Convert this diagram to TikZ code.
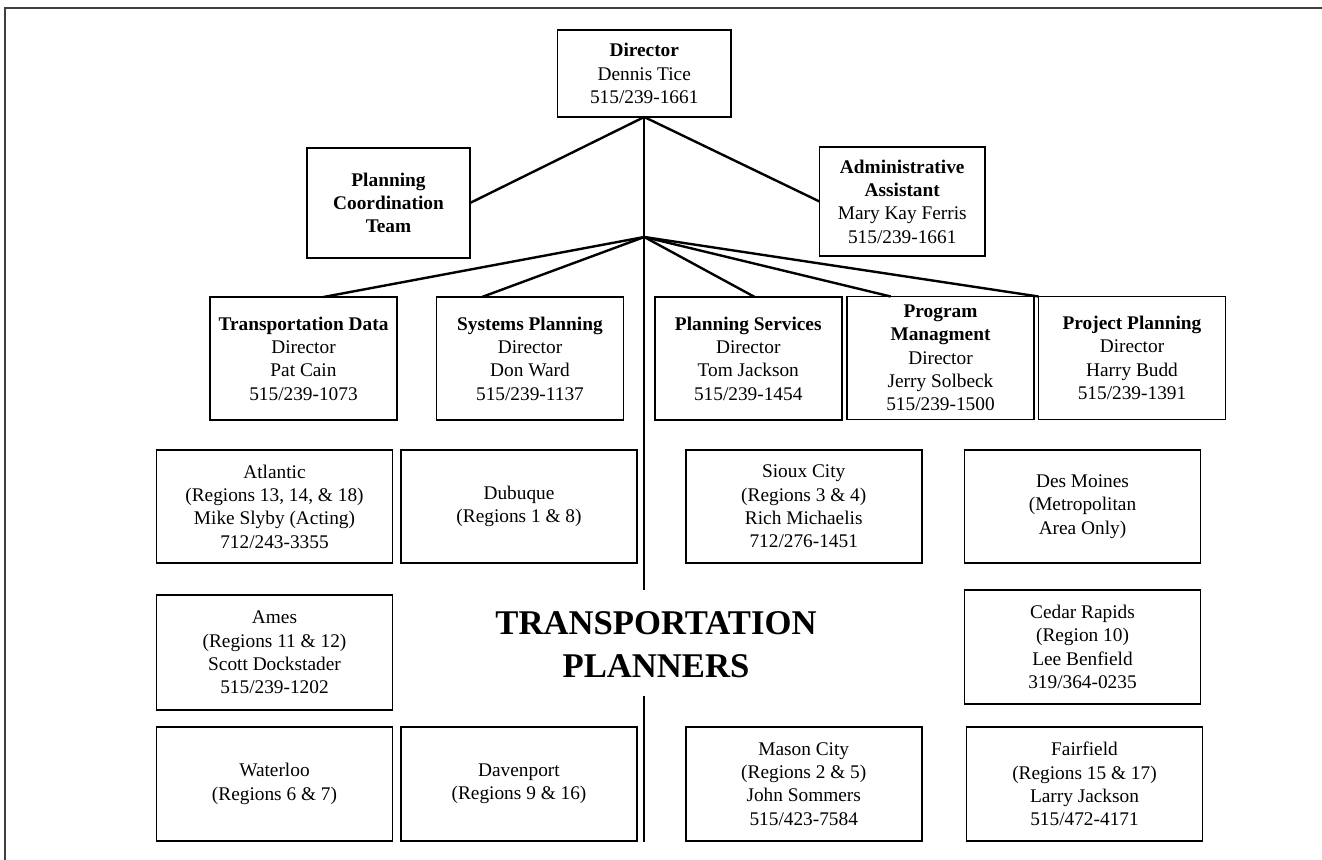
\documentclass[tikz,border=0pt]{standalone}
\usepackage{fontspec}
\setmainfont{Liberation Serif}
\usetikzlibrary{calc}
\tikzset{%
    unit/.style={inner sep=2pt,outer sep=0pt,shape=rectangle,draw,line width=1.3pt,align=center,font=\fontsize{14.5}{17.5}\selectfont},
    boxsize/.style 2 args={minimum width=#1*0.75pt,minimum height=#2*0.75pt},
    dept/.style={unit,boxsize={187}{123}},
    region/.style={unit,boxsize={236}{114}},
    link/.style={line width=1.8pt},
    trunk/.style={line width=1.2pt},
    frame/.style={black!75,line width=1pt},
}
\begin{document}
\begin{tikzpicture}[x=0.75pt,y=-0.75pt]
        \useasboundingbox (0,0) rectangle (1322,860);
        \draw[frame] (5,860) -- (5,8) -- (1322,8);

        \node[unit,boxsize={173.5}{87}] (dir) at (644.25,73.5) {\textbf{Director}\\Dennis Tice\\515/239-1661};
        \node[unit,boxsize={163}{110},font=\fontsize{14.5}{17.5}\selectfont\bfseries] (pct) at (388.5,203) {Planning\\Coordination\\Team};
        \node[unit,boxsize={165.5}{109}] (adm) at (902.25,201.5) {\textbf{Administrative}\\\textbf{Assistant}\\Mary Kay Ferris\\515/239-1661};

        \node[dept] (td) at (303.5,358.5) {\textbf{Transportation Data}\\Director\\Pat Cain\\515/239-1073};
        \node[dept] (sp) at (530,358.5) {\textbf{Systems Planning}\\Director\\Don Ward\\515/239-1137};
        \node[dept] (ps) at (748.25,358.5) {\textbf{Planning Services}\\Director\\Tom Jackson\\515/239-1454};
        \node[dept] (pm) at (940.5,358) {\textbf{Program}\\\textbf{Managment}\\Director\\Jerry Solbeck\\515/239-1500};
        \node[dept] (pp) at (1132,358) {\textbf{Project Planning}\\Director\\Harry Budd\\515/239-1391};

        \node[region,minimum height=113*0.75pt] (atl) at (274.5,506.5) {Atlantic\\(Regions 13, 14, \& 18)\\Mike Slyby (Acting)\\712/243-3355};
        \node[region,minimum height=113*0.75pt] (dub) at (519,506.5) {Dubuque\\(Regions 1 \& 8)};
        \node[region,minimum height=113*0.75pt] (sio) at (803.75,506.5) {Sioux City\\(Regions 3 \& 4)\\Rich Michaelis\\712/276-1451};
        \node[region,minimum height=113*0.75pt] (dsm) at (1082.5,506.5) {Des Moines\\(Metropolitan\\Area Only)};

        \node[region,minimum height=115*0.75pt] (ame) at (274.5,652.5) {Ames\\(Regions 11 \& 12)\\Scott Dockstader\\515/239-1202};
        \node[region] (ced) at (1082.5,647) {Cedar Rapids\\(Region 10)\\Lee Benfield\\319/364-0235};

        \node[region] (wat) at (274.5,784) {Waterloo\\(Regions 6 \& 7)};
        \node[region] (dav) at (519,784) {Davenport\\(Regions 9 \& 16)};
        \node[region] (mas) at (803.75,784) {Mason City\\(Regions 2 \& 5)\\John Sommers\\515/423-7584};
        \node[region] (fai) at (1084.5,784) {Fairfield\\(Regions 15 \& 17)\\Larry Jackson\\515/472-4171};

        \node[align=center,font=\fontsize{26}{32}\selectfont\bfseries] (title) at (656,645) {TRANSPORTATION\\PLANNERS};

        % trunk, broken round the title
        \coordinate (hub) at (644.25,237);
        \coordinate (trunkA) at (644.25,590);
        \coordinate (trunkB) at (644.25,696);
        \coordinate (trunkC) at (644.25,842);
        \draw[trunk] (dir.south) -- (trunkA);
        \draw[trunk] (trunkB) -- (trunkC);

        \draw[link] (dir.south) -- (pct.east);
        \draw[link] (dir.south) -- (adm.west);
        \draw[link] (hub) -- (td.72);
        \draw[link] (hub) -- (sp.128);
        \draw[link] (hub) -- (ps.84);
        \draw[link] (hub) -- (pm.129);
        \draw[link] (hub) -- (pp.north west);
      \end{tikzpicture}
\end{document}
